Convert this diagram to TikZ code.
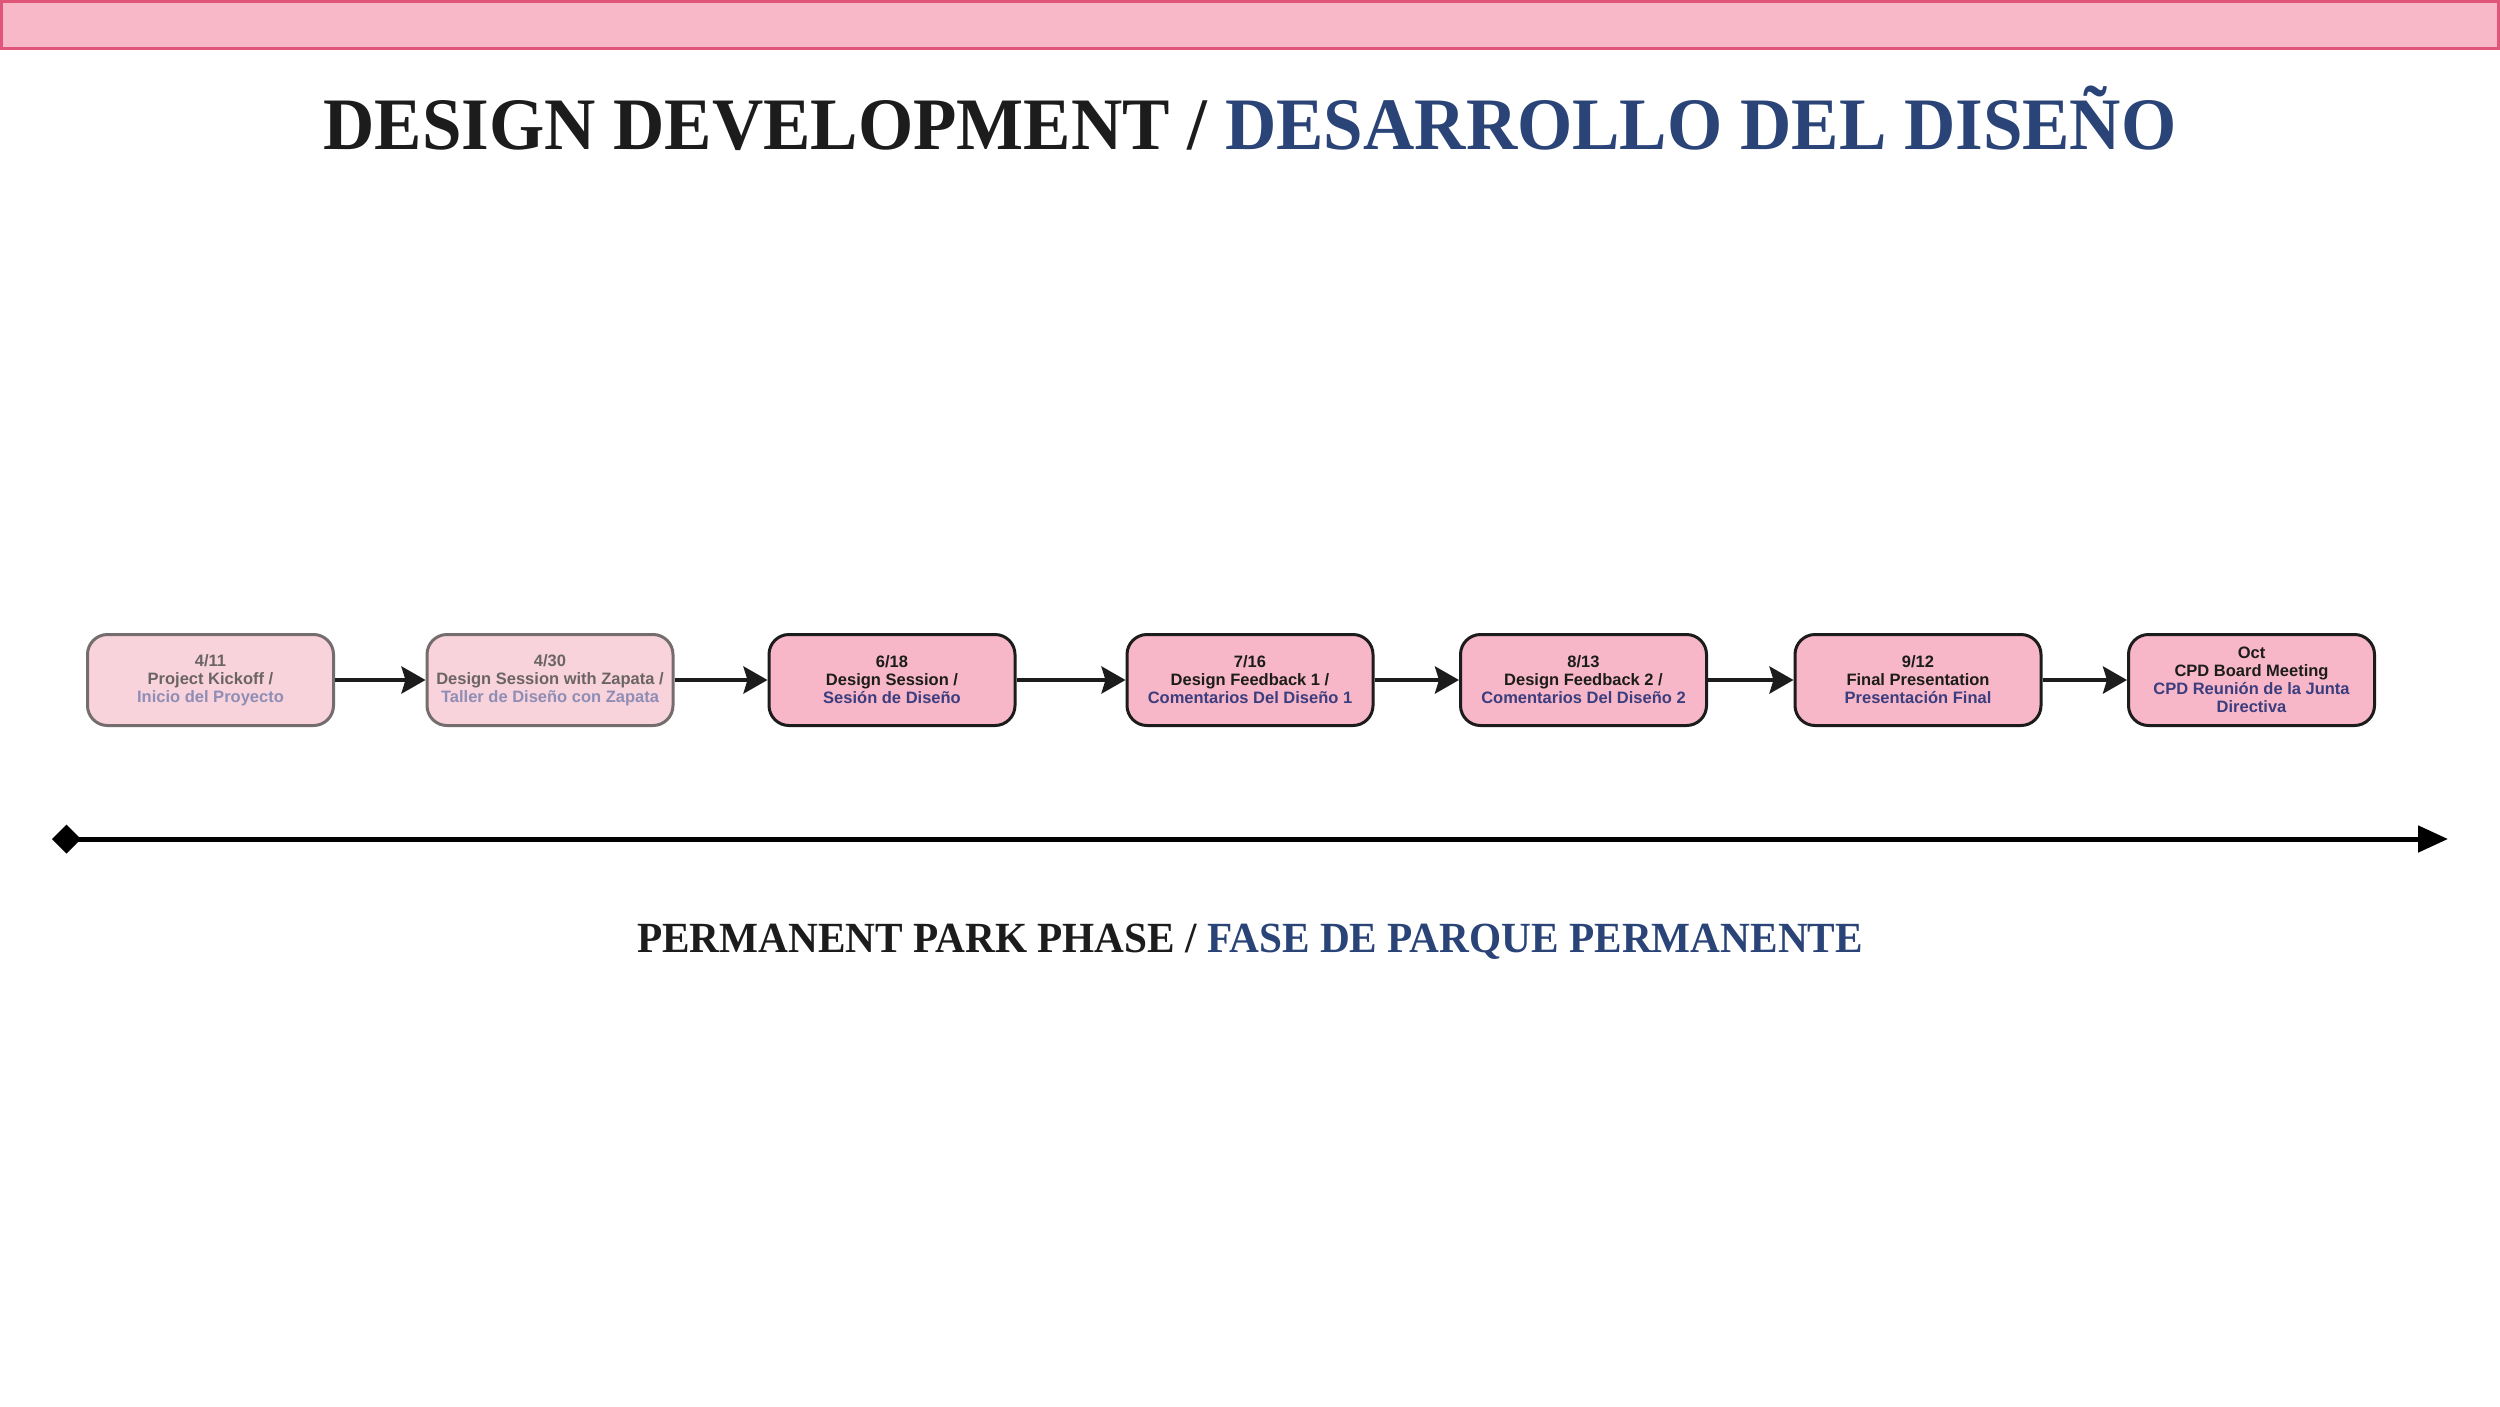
\documentclass[tikz,border=0pt]{standalone}
\usepackage{fontspec}
\setmainfont{Liberation Serif}
\newfontfamily\titlefont{Liberation Serif}[FakeStretch=0.96]
\newfontfamily\boxfont{Liberation Sans}
\usetikzlibrary{arrows.meta}
\definecolor{bandfill}{HTML}{F8B8C8}
\definecolor{bandline}{HTML}{E0557A}
\definecolor{titleblue}{HTML}{2A4478}
\definecolor{ink}{HTML}{1C1C1C}
\definecolor{activefill}{HTML}{F7B7C8}
\definecolor{fadedfill}{HTML}{F9D3DC}
\definecolor{fadedline}{HTML}{756C6E}
\definecolor{fadedtext}{HTML}{6B6466}
\definecolor{fadedes}{HTML}{8E8DB5}
\definecolor{activees}{HTML}{3B3D7E}
\tikzset{
  event/.style={rounded corners=20pt, minimum width=246pt, minimum height=91pt, line width=3pt,
    align=center, inner sep=0pt, font=\boxfont\bfseries\fontsize{16.5}{18}\selectfont},
  active/.style={event, fill=activefill, draw=ink, text=ink},
  faded/.style={event, fill=fadedfill, draw=fadedline, text=fadedtext},
  link/.style={line width=4.3pt, draw=ink, -{Stealth[length=24pt,width=27pt,inset=4pt]}},
  headline/.style={anchor=base, inner sep=0pt, font=\titlefont\bfseries\fontsize{74}{84}\selectfont},
  subline/.style={anchor=base, inner sep=0pt, font=\titlefont\bfseries\fontsize{43}{50}\selectfont},
}
\begin{document}
\begin{tikzpicture}[x=1pt,y=-1pt]
\useasboundingbox (0,0) rectangle (2500,1406);
\fill[white] (0,0) rectangle (2500,1406);
\draw[fill=bandfill, draw=bandline, line width=3pt] (1.5,1.5) rectangle (2498.5,48);

\node[headline] (title) at (1250,149) {\textcolor{ink}{DESIGN DEVELOPMENT /} \textcolor{titleblue}{DESARROLLO DEL DISEÑO}};

\node[faded] (e1) at (210.5,680) {4/11\\Project Kickoff /\\\textcolor{fadedes}{Inicio del Proyecto}};
\node[faded] (e2) at (550,680) {4/30\\Design Session with Zapata /\\\textcolor{fadedes}{Taller de Diseño con Zapata}};
\node[active] (e3) at (892,680) {6/18\\Design Session /\\\textcolor{activees}{Sesión de Diseño}};
\node[active] (e4) at (1250,680) {7/16\\Design Feedback 1 /\\\textcolor{activees}{Comentarios Del Diseño 1}};
\node[active] (e5) at (1583.5,680) {8/13\\Design Feedback 2 /\\\textcolor{activees}{Comentarios Del Diseño 2}};
\node[active] (e6) at (1918,680) {9/12\\Final Presentation\\\textcolor{activees}{Presentación Final}};
\node[active] (e7) at (2251.5,680) {Oct\\CPD Board Meeting\\\textcolor{activees}{CPD Reunión de la Junta}\\\textcolor{activees}{Directiva}};

\draw[link] (e1.east) -- (e2.west);
\draw[link] (e2.east) -- (e3.west);
\draw[link] (e3.east) -- (e4.west);
\draw[link] (e4.east) -- (e5.west);
\draw[link] (e5.east) -- (e6.west);
\draw[link] (e6.east) -- (e7.west);

\coordinate (tstart) at (52,839);
\coordinate (tend) at (2448,839);
\draw[line width=5pt, draw=black, {Diamond[length=29pt,width=29pt]}-{Triangle[length=30pt,width=26pt]}] (tstart) -- (tend);

\node[subline] (phase) at (1250,952) {\textcolor{ink}{PERMANENT PARK PHASE /} \textcolor{titleblue}{FASE DE PARQUE PERMANENTE}};
\end{tikzpicture}
\end{document}
